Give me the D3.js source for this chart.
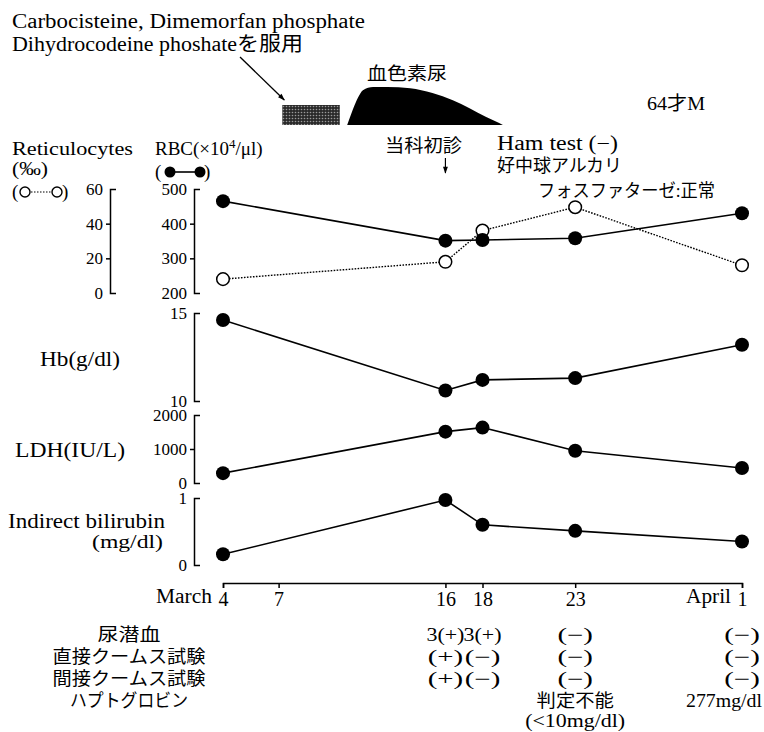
<!DOCTYPE html>
<html>
<head>
<meta charset="utf-8">
<script src="https://cdn.jsdelivr.net/npm/d3@7"></script>
<style>
  body { margin: 0; background: #fff; }
  svg text { font-family: "Liberation Serif", "Times New Roman", "Noto Sans CJK JP", serif; fill: #000; }
</style>
</head>
<body>
<script>
// measurement dates and values
const dates  = ["2000-03-04", "2000-03-16", "2000-03-18", "2000-03-23", "2000-04-01"];
const rbc    = [465, 351, 353, 358, 430];
const retic  = [8, 18, 36, 49.5, 16];
const hb     = [14.6, 10.6, 11.2, 11.3, 13.2];
const ldh    = [290, 1510, 1630, 950, 440];
const bili   = [0.16, 0.97, 0.60, 0.51, 0.35];

const tickDates = ["2000-03-04", "2000-03-07", "2000-03-16", "2000-03-18", "2000-03-23", "2000-04-01"];
const firstVisit = "2000-03-16";

// drug intake and hemoglobinuria, in day of March
const drugDays = [7.2, 10.3];
const hbUriaDays  = [10.7, 11.0, 11.3, 11.55, 12.1, 12.85, 14.1, 15.3, 16.4, 17.3, 18.2, 18.9, 19.1];
const hbUriaLevel = [0, 0.38, 0.7, 0.87, 0.95, 0.95, 0.92, 0.8, 0.62, 0.42, 0.2, 0.05, 0];

// table below the axis
const rowNames = ["尿潜血", "直接クームス試験", "間接クームス試験", "ハプトグロビン"];
const urineBlood     = ["", "3(+)", "3(+)", "(−)", "(−)"];
const directCoombs   = ["", "(+)", "(−)", "(−)", "(−)"];
const indirectCoombs = ["", "(+)", "(−)", "(−)", "(−)"];
const haptoglobin    = ["", "", "", "判定不能", "277mg/dl"];
const haptoNote      = ["", "", "", "(<10mg/dl)", ""];

const w = 764, h = 732;
const parse = d3.timeParse("%Y-%m-%d");
const t0 = new Date(2000, 2, 1);
const onDay = d => new Date(+t0 + (d - 1) * 864e5);

const svg = d3.select("body").append("svg").attr("width", w).attr("height", h);

const defs = svg.append("defs");
const pat = defs.append("pattern").attr("id", "dots").attr("patternUnits", "userSpaceOnUse")
  .attr("width", 3).attr("height", 3);
pat.append("rect").attr("width", 3).attr("height", 3).attr("fill", "#2a2a2a");
pat.append("circle").attr("cx", 1.5).attr("cy", 1.5).attr("r", 0.8).attr("fill", "#9a9a9a");
defs.append("marker").attr("id", "head").attr("viewBox", "0 0 10 10")
  .attr("refX", 9).attr("refY", 5).attr("markerWidth", 9).attr("markerHeight", 7)
  .attr("orient", "auto").attr("markerUnits", "userSpaceOnUse")
  .append("path").attr("d", "M0,1.5L10,5L0,8.5Z").attr("fill", "#000");

const x = d3.scaleTime().domain([parse(dates[0]), parse(dates[4])]).range([223, 742]);

function label(px, py, str, size, len, anchor) {
  const t = svg.append("text").attr("x", px).attr("y", py).attr("font-size", size)
    .attr("text-anchor", anchor || "start").text(str);
  if (len) t.attr("textLength", len).attr("lengthAdjust", "spacingAndGlyphs");
  return t;
}

// header notes
label(12, 28, "Carbocisteine, Dimemorfan phosphate", 20, 353);
label(12, 51, "Dihydrocodeine phoshateを服用", 20, 291);
svg.append("line").attr("x1", 240).attr("y1", 57)
  .attr("x2", x(onDay(drugDays[0])) + 2).attr("y2", 100)
  .attr("stroke", "#000").attr("stroke-width", 1.3).attr("marker-end", "url(#head)");

svg.append("rect").attr("x", x(onDay(drugDays[0]))).attr("y", 105)
  .attr("width", x(onDay(drugDays[1])) - x(onDay(drugDays[0]))).attr("height", 20)
  .attr("fill", "url(#dots)");

const lvl = d3.scaleLinear().domain([0, 1]).range([125, 85]);
const area = d3.area().curve(d3.curveMonotoneX)
  .x(d => x(onDay(d))).y0(lvl(0)).y1((d, i) => lvl(hbUriaLevel[i]));
svg.append("path").attr("d", area(hbUriaDays)).attr("fill", "#000");
label(407, 80, "血色素尿", 18, 80, "middle");
label(647, 110, "64才M", 19, 58);

label(385, 152, "当科初診", 18, 77);
svg.append("line").attr("x1", x(parse(firstVisit))).attr("x2", x(parse(firstVisit)))
  .attr("y1", 158).attr("y2", 173).attr("stroke", "#000").attr("stroke-width", 1.2)
  .attr("marker-end", "url(#head)");
label(497, 150, "Ham test (−)", 20, 121);
label(497, 172, "好中球アルカリ", 18, 125);
label(538, 197, "フォスファターゼ:正常", 18, 177);

// legends
label(12, 155, "Reticulocytes", 19, 121);
label(12, 175, "(‰)", 18, 36);
label(12, 198, "(", 19);
label(62, 198, ")", 19);
svg.append("line").attr("x1", 25).attr("x2", 57).attr("y1", 192).attr("y2", 192)
  .attr("stroke", "#000").attr("stroke-width", 1.2).attr("stroke-dasharray", "1.5,1.5");
[25, 57].forEach(cx => svg.append("circle").attr("cx", cx).attr("cy", 192).attr("r", 5)
  .attr("fill", "#fff").attr("stroke", "#000").attr("stroke-width", 1.4));

const rbcLab = label(155, 155, "RBC(×10", 19);
rbcLab.append("tspan").attr("dy", -7).attr("font-size", 13).text("4");
rbcLab.append("tspan").attr("dy", 7).text("/μl)");
label(155, 178, "(", 19);
label(204, 178, ")", 19);
svg.append("line").attr("x1", 170).attr("x2", 200).attr("y1", 172).attr("y2", 172)
  .attr("stroke", "#000").attr("stroke-width", 1.6);
[170, 200].forEach(cx => svg.append("circle").attr("cx", cx).attr("cy", 172).attr("r", 5.5).attr("fill", "#000"));

// y scales
const yRetic = d3.scaleLinear().domain([0, 60]).range([293, 189]);
const yRbc   = d3.scaleLinear().domain([200, 500]).range([293, 189]);
const yHb    = d3.scaleLinear().domain([10, 15]).range([401, 313]);
const yLdh   = d3.scaleLinear().domain([0, 2000]).range([483, 415]);
const yBili  = d3.scaleLinear().domain([0, 1]).range([565, 498]);

function yAxis(scale, ax, ticks) {
  const g = svg.append("g").attr("transform", `translate(${ax},0)`)
    .call(d3.axisLeft(scale).tickValues(ticks).tickSize(4).tickSizeOuter(-6).tickPadding(3).tickFormat(d3.format("d")));
  const dom = scale.domain();
  g.selectAll(".tick line").filter(d => d === dom[0] || d === dom[1]).remove();
  g.selectAll("path, line").attr("stroke-width", 1.5);
  g.selectAll("text").attr("font-size", 17);
  return g;
}
yAxis(yRetic, 110, [0, 20, 40, 60]);
yAxis(yRbc, 194, [200, 300, 400, 500]);
yAxis(yHb, 194, [10, 15]);
yAxis(yLdh, 194, [0, 1000, 2000]);
yAxis(yBili, 194, [0, 1]);

label(40, 366, "Hb(g/dl)", 20, 80);
label(15, 457, "LDH(IU/L)", 20, 110);
label(8, 528, "Indirect bilirubin", 20, 157);
label(163, 548, "(mg/dl)", 19, 71, "end");

// series
function series(vals, y, filled) {
  const pts = dates.map((d, i) => ({ date: parse(d), v: vals[i] }));
  const line = d3.line().x(d => x(d.date)).y(d => y(d.v));
  svg.append("path").attr("d", line(pts)).attr("fill", "none").attr("stroke", "#000")
    .attr("stroke-width", filled ? 1.6 : 1.4)
    .attr("stroke-dasharray", filled ? null : "1.6,1.4");
  svg.selectAll(null).data(pts).enter().append("circle")
    .attr("cx", d => x(d.date)).attr("cy", d => y(d.v))
    .attr("r", filled ? 7 : 6.3)
    .attr("fill", filled ? "#000" : "#fff")
    .attr("stroke", "#000").attr("stroke-width", filled ? 0 : 1.5);
}
series(retic, yRetic, false);
series(rbc, yRbc, true);
series(hb, yHb, true);
series(ldh, yLdh, true);
series(bili, yBili, true);

// x axis
const xg = svg.append("g").attr("transform", "translate(0,583)")
  .call(d3.axisBottom(x).tickValues(tickDates.map(parse)).tickSize(5).tickSizeOuter(5).tickPadding(4)
    .tickFormat(d3.timeFormat("%-d")));
xg.selectAll("path, line").attr("stroke-width", 1.5);
xg.selectAll("text").attr("font-size", 20);
label(x(parse(tickDates[0])) - 11, 603, "March", 20, 56, "end");
label(x(parse(tickDates[5])) - 11, 603, "April", 20, 45, "end");

// table
const rowY = [641, 663, 685, 707];
rowNames.forEach((n, i) => label(129, rowY[i], n, 18, [63, 153, 153, 118][i], "middle"));
[urineBlood, directCoombs, indirectCoombs, haptoglobin].forEach((row, r) => {
  row.forEach((s, i) => {
    if (!s) return;
    const len = s.length * (s.includes("(") || s.includes("mg") ? 9.5 : 19.3) + (s.length < 4 ? 7 : 0);
    const cx = Math.min(x(parse(dates[i])), 762 - len / 2);
    label(cx, rowY[r], s, 18, len, "middle");
  });
});
haptoNote.forEach((s, i) => {
  if (s) label(x(parse(dates[i])), 727, s, 18, 100, "middle");
});
</script>
</body>
</html>
